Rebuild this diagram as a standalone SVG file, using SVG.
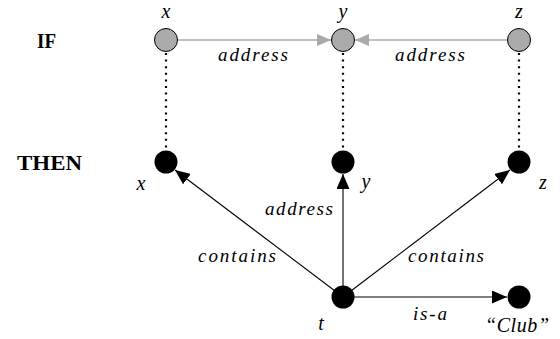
<svg xmlns="http://www.w3.org/2000/svg" width="560" height="339" viewBox="0 0 560 339">
<style>
.gnode{fill:#aaa;stroke:#000;stroke-width:1}
.bnode{fill:#000}
.gedge{stroke:#aaa;stroke-width:1.3;fill:none}
.bedge{stroke:#000;stroke-width:1.1;fill:none}
.dot{stroke:#000;stroke-width:2.2;stroke-dasharray:2 4.6;fill:none}
</style>
<defs>
<marker id="ga" viewBox="0 0 14 12" refX="14" refY="6" markerWidth="14" markerHeight="12" markerUnits="userSpaceOnUse" orient="auto"><path d="M0,0L14,6L0,12z" fill="#aaa"/></marker>
<marker id="ba" viewBox="0 0 15 13" refX="15" refY="6.5" markerWidth="15" markerHeight="13" markerUnits="userSpaceOnUse" orient="auto"><path d="M0,0L15,6.5L0,13z" fill="#000"/></marker>
</defs>
<g font-family="Liberation Serif, serif" font-weight="bold" font-size="21">
<text x="37" y="48" textLength="19" lengthAdjust="spacingAndGlyphs">IF</text>
<text x="17" y="170" textLength="65" lengthAdjust="spacingAndGlyphs">THEN</text>
</g>
<g id="connectors">
<line class="dot" x1="166" y1="53" x2="166" y2="150"/>
<line class="dot" x1="343" y1="53" x2="343" y2="150"/>
<line class="dot" x1="519" y1="53" x2="519" y2="150"/>
<line class="gedge" x1="178" y1="40" x2="331" y2="40" marker-end="url(#ga)"/>
<line class="gedge" x1="507" y1="40" x2="355" y2="40" marker-end="url(#ga)"/>
<line class="bedge" x1="343" y1="297" x2="343" y2="174" marker-end="url(#ba)"/>
<line class="bedge" x1="343" y1="297" x2="175" y2="170" marker-end="url(#ba)"/>
<line class="bedge" x1="343" y1="297" x2="510" y2="170" marker-end="url(#ba)"/>
<line class="bedge" x1="343" y1="297" x2="507" y2="297" marker-end="url(#ba)"/>
<g font-family="Liberation Serif, serif" font-style="italic" font-size="19" text-anchor="middle">
<text x="253" y="61" textLength="70">address</text>
<text x="430" y="61" textLength="70">address</text>
<text x="299" y="215" textLength="68">address</text>
<text x="237" y="262" textLength="78">contains</text>
<text x="446" y="262" textLength="76">contains</text>
<text x="430" y="320" textLength="34">is-a</text>
</g>
</g>
<g font-family="Liberation Serif, serif" font-style="italic" font-size="20" text-anchor="middle">
<g id="if-x"><circle class="gnode" cx="166" cy="40" r="11.5"/><text x="166" y="18">x</text></g>
<g id="if-y"><circle class="gnode" cx="343" cy="40" r="11.5"/><text x="343" y="18">y</text></g>
<g id="if-z"><circle class="gnode" cx="519" cy="40" r="11.5"/><text x="519" y="18">z</text></g>
<g id="then-x"><circle class="bnode" cx="166" cy="162" r="11.5"/><text x="141" y="190">x</text></g>
<g id="then-y"><circle class="bnode" cx="343" cy="162" r="11.5"/><text x="366" y="188">y</text></g>
<g id="then-z"><circle class="bnode" cx="519" cy="162" r="11.5"/><text x="543" y="189">z</text></g>
<g id="t"><circle class="bnode" cx="343" cy="297" r="11.5"/><text x="321" y="330">t</text></g>
<g id="club"><circle class="bnode" cx="519" cy="297" r="11.5"/><text x="517" y="332" textLength="64">“Club”</text></g>
</g>
</svg>
